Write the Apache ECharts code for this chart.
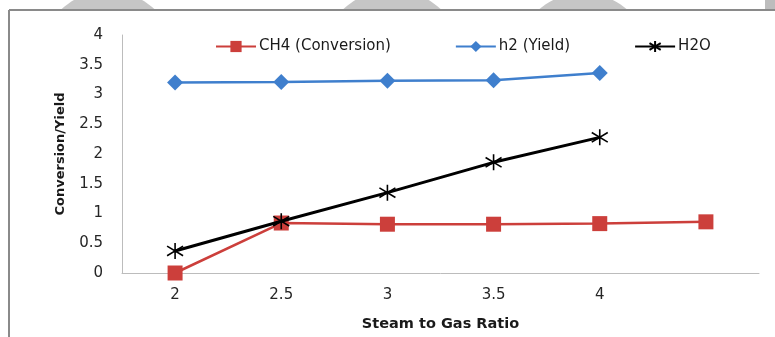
<!DOCTYPE html>
<html>
<head>
<meta charset="utf-8">
<script src="https://cdn.jsdelivr.net/npm/echarts@6/dist/echarts.min.js"></script>
<style>
  html, body { margin: 0; padding: 0; background: #fff; }
  #chart { width: 775px; height: 337px; }
</style>
</head>
<body>
<div id="chart"></div>
<script>
// Steam-to-gas ratio categories (last slot has no label)
const ratios = ['2', '2.5', '3', '3.5', '4', ''];
// Series values
const ch4Conversion = [0, 0.84, 0.82, 0.82, 0.83, 0.86];
const h2Yield = [3.2, 3.21, 3.23, 3.24, 3.36, null];
const h2oValues = [0.37, 0.87, 1.35, 1.86, 2.28, null];

const FONT = 'DejaVu Sans';
const asterisk = 'path://M0,-10L0,10M-9,-6L9,6M-9,6L9,-6';

const chart = echarts.init(document.getElementById('chart'), null, { renderer: 'canvas' });

chart.setOption({
  backgroundColor: '#fff',
  animation: false,
  textStyle: { fontFamily: FONT },
  graphic: [
    // soft grey shapes peeking above the frame
    { type: 'circle', shape: { cx: 108, cy: 60, r: 69 }, style: { fill: '#c6c6c6' }, z: 0, silent: true },
    { type: 'circle', shape: { cx: 392, cy: 62, r: 72 }, style: { fill: '#c6c6c6' }, z: 0, silent: true },
    { type: 'circle', shape: { cx: 583, cy: 60, r: 67 }, style: { fill: '#c6c6c6' }, z: 0, silent: true },
    { type: 'rect', shape: { x: 765, y: 0, width: 10, height: 9 }, style: { fill: '#bdbdbd' }, z: 0, silent: true },
    // white panel inside the frame
    { type: 'rect', shape: { x: 9, y: 10, width: 766, height: 327 }, style: { fill: '#fff' }, z: 1, silent: true },
    // frame edges
    { type: 'line', shape: { x1: 9, y1: 10, x2: 775, y2: 10 }, style: { stroke: '#8a8a8a', lineWidth: 2 }, z: 2, silent: true },
    { type: 'line', shape: { x1: 9, y1: 10, x2: 9, y2: 337 }, style: { stroke: '#8a8a8a', lineWidth: 2 }, z: 2, silent: true }
  ],
  grid: { left: 122, right: 16, top: 35, bottom: 63, containLabel: false },
  legend: {
    left: 210,
    top: 34,
    z: 10,
    itemWidth: 40,
    itemHeight: 14,
    itemGap: 64,
    textStyle: { fontFamily: FONT, fontSize: 15, color: '#1a1a1a', padding: [0, 0, 0, -2] },
    data: ['CH4 (Conversion)', 'h2 (Yield)', 'H2O']
  },
  xAxis: {
    type: 'category',
    data: ratios,
    boundaryGap: true,
    z: 10,
    name: 'Steam to Gas Ratio',
    nameLocation: 'middle',
    nameGap: 44,
    nameTextStyle: { fontFamily: FONT, fontSize: 14.5, fontWeight: 'bold', color: '#1a1a1a' },
    axisLine: { show: true, lineStyle: { color: '#bcbcbc', width: 1 } },
    axisTick: { show: false },
    axisLabel: { fontFamily: FONT, fontSize: 15, color: '#262626', margin: 15 },
    splitLine: { show: false }
  },
  yAxis: {
    type: 'value',
    min: 0,
    max: 4,
    interval: 0.5,
    z: 10,
    name: 'Conversion/Yield',
    nameLocation: 'middle',
    nameRotate: 90,
    nameGap: 55,
    nameTextStyle: { fontFamily: FONT, fontSize: 13, fontWeight: 'bold', color: '#1a1a1a' },
    axisLine: { show: true, lineStyle: { color: '#bcbcbc', width: 1 } },
    axisTick: { show: false },
    axisLabel: { fontFamily: FONT, fontSize: 15, color: '#262626', margin: 19 },
    splitLine: { show: false }
  },
  series: [
    {
      name: 'CH4 (Conversion)',
      type: 'line',
      data: ch4Conversion,
      symbol: 'rect',
      symbolSize: 15,
      lineStyle: { color: '#cc3f3b', width: 2.5 },
      itemStyle: { color: '#cc3f3b' },
      z: 11
    },
    {
      name: 'h2 (Yield)',
      type: 'line',
      data: h2Yield,
      symbol: 'diamond',
      symbolSize: 16,
      lineStyle: { color: '#3f7fcd', width: 2.5 },
      itemStyle: { color: '#3f7fcd' },
      z: 11
    },
    {
      name: 'H2O',
      type: 'line',
      data: h2oValues,
      symbol: asterisk,
      symbolSize: 16,
      lineStyle: { color: '#000', width: 3 },
      itemStyle: { color: 'rgba(0,0,0,0)', borderColor: '#000', borderWidth: 1.6 },
      z: 12
    }
  ]
});
</script>
</body>
</html>
